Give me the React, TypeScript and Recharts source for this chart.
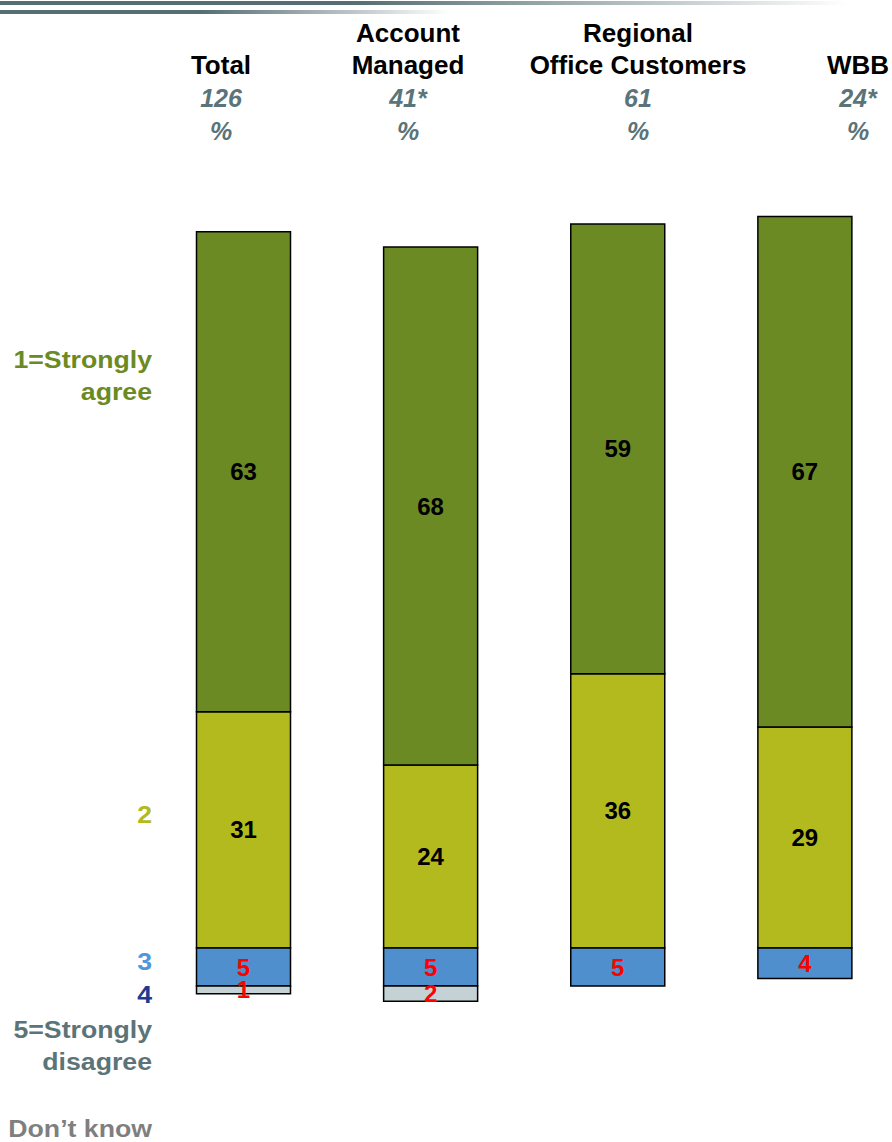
import React from 'react';
import { BarChart, Bar, XAxis, YAxis, LabelList } from 'recharts';

const categories = ['Total', 'Account Managed', 'Regional Office Customers', 'WBB'];
const stronglyAgree = [63, 68, 59, 67];
const agree = [31, 24, 36, 29];
const neutral = [5, 5, 5, 4];
const disagree: (number | null)[] = [1, 2, null, null];

const headerLines = [['Total'], ['Account', 'Managed'], ['Regional', 'Office Customers'], ['WBB']];
const baseSizes = ['126', '41*', '61', '24*'];
const headerCenters = [221, 408, 638, 858];

const legendItems = [
  { lines: ['1=Strongly', 'agree'], y: 368, color: '#6B8A23' },
  { lines: ['2'], y: 823, color: '#B2BA1E' },
  { lines: ['3'], y: 970, color: '#4F97DA' },
  { lines: ['4'], y: 1003, color: '#1F3A8F' },
  { lines: ['5=Strongly', 'disagree'], y: 1038, color: '#5A7479' },
  { lines: ['Don\u2019t know'], y: 1137, color: '#7F7F7F' },
];

const COLORS = { s1: '#6B8A23', s2: '#B2BA1E', s3: '#4F8FCD', s4: '#C4D2D6' };

const chartData = categories.map((name, i) => ({
  name,
  s1: stronglyAgree[i],
  s2: agree[i],
  s3: -neutral[i],
  s4: disagree[i] == null ? null : -(disagree[i] as number),
}));

const FONT = 'Liberation Sans, Arial, Helvetica, sans-serif';

const makeLabel = (color: string) => (props: any) => {
  const { x, y, width, height, value } = props;
  if (value == null || value === 0) return null;
  return (
    <text
      x={x + width / 2}
      y={y + height / 2}
      textAnchor="middle"
      dominantBaseline="central"
      fill={color}
      fontFamily={FONT}
      fontWeight="bold"
      fontSize={24}
    >
      {Math.abs(value)}
    </text>
  );
};

export default function App() {
  return (
    <div style={{ position: 'absolute', left: 0, top: 0, width: 892, height: 1142, overflow: 'hidden', background: '#fff' }}>
      <BarChart
        width={898}
        height={1142}
        data={chartData}
        stackOffset="sign"
        margin={{ top: 186, right: 0, bottom: 41.6, left: 149.5 }}
        barSize={94}
      >
        <XAxis dataKey="name" hide />
        <YAxis type="number" domain={[-20, 100]} hide allowDataOverflow />
        <Bar dataKey="s2" stackId="a" fill={COLORS.s2} stroke="#000" strokeWidth={1.5} isAnimationActive={false}>
          <LabelList dataKey="s2" content={makeLabel('#000')} />
        </Bar>
        <Bar dataKey="s1" stackId="a" fill={COLORS.s1} stroke="#000" strokeWidth={1.5} isAnimationActive={false}>
          <LabelList dataKey="s1" content={makeLabel('#000')} />
        </Bar>
        <Bar dataKey="s3" stackId="a" fill={COLORS.s3} stroke="#000" strokeWidth={1.5} isAnimationActive={false}>
          <LabelList dataKey="s3" content={makeLabel('#FF0000')} />
        </Bar>
        <Bar dataKey="s4" stackId="a" fill={COLORS.s4} stroke="#000" strokeWidth={1.5} isAnimationActive={false}>
          <LabelList dataKey="s4" content={makeLabel('#FF0000')} />
        </Bar>
      </BarChart>
      <svg width={892} height={1142} style={{ position: 'absolute', left: 0, top: 0, pointerEvents: 'none' }}>
        <defs>
          <linearGradient id="g1" x1="0" x2="1" y1="0" y2="0">
            <stop offset="0" stopColor="#566F73" />
            <stop offset="0.4" stopColor="#566F73" />
            <stop offset="0.95" stopColor="#566F73" stopOpacity="0" />
          </linearGradient>
          <linearGradient id="g2" x1="0" x2="1" y1="0" y2="0">
            <stop offset="0" stopColor="#566F73" />
            <stop offset="0.45" stopColor="#566F73" />
            <stop offset="1" stopColor="#566F73" stopOpacity="0" />
          </linearGradient>
        </defs>
        <rect x={0} y={1} width={892} height={4} fill="url(#g1)" />
        <rect x={0} y={10} width={450} height={4} fill="url(#g2)" />
        {headerLines.map((lines, i) => (
          <g key={i}>
            {lines.map((ln, j) => (
              <text
                key={j}
                x={headerCenters[i]}
                y={74 - (lines.length - 1 - j) * 32}
                textAnchor="middle"
                fontFamily={FONT}
                fontWeight="bold"
                fontSize={26}
                fill="#000"
              >
                {ln}
              </text>
            ))}
            <text x={headerCenters[i]} y={107} textAnchor="middle" fontFamily={FONT} fontWeight="bold" fontStyle="italic" fontSize={25} fill="#5A7479">
              {baseSizes[i]}
            </text>
            <text x={headerCenters[i]} y={140} textAnchor="middle" fontFamily={FONT} fontWeight="bold" fontStyle="italic" fontSize={25} fill="#5A7479">
              %
            </text>
          </g>
        ))}
        {legendItems.map((it, i) => (
          <g key={i} transform={`translate(152, 0) scale(1.16, 1)`}>
            {it.lines.map((ln, j) => (
              <text key={j} x={0} y={it.y + j * 32} textAnchor="end" fontFamily={FONT} fontWeight="bold" fontSize={23} fill={it.color}>
                {ln}
              </text>
            ))}
          </g>
        ))}
      </svg>
    </div>
  );
}
